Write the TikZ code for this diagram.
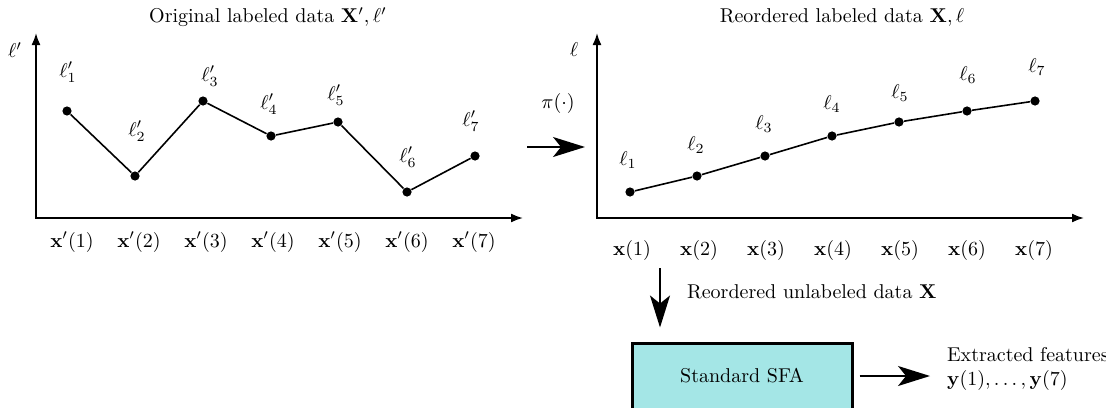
\documentclass[tikz,border=0pt]{standalone}
\usetikzlibrary{arrows.meta}
\definecolor{sfacyan}{RGB}{164,230,230}
\tikzset{
  dot/.style={circle, fill, inner sep=0pt, minimum size=4.6pt},
  axis/.style={line width=0.9pt, {Latex[length=6pt,width=4.5pt]}-{Latex[length=6pt,width=4.5pt]}},
  bigarrow/.style={line width=0.9pt, -{Stealth[length=16pt,width=10pt,inset=4pt]}},
  curve/.style={line width=0.8pt},
  sfabox/.style={draw, line width=1.5pt, fill=sfacyan, minimum width=110pt, minimum height=33pt},
}

\begin{document}
\begin{tikzpicture}[x=0.5pt, y=-0.5pt]
\useasboundingbox (0,0) rectangle (1106,407);

% Original labeled data
\node (titlea) at (268,17) {Original labeled data $\mathbf{X}',\ell'$};
\coordinate (ya) at (36,33);
\coordinate (xa) at (523,218);
\draw[axis] (ya) |- (xa);
\node (lbla) at (15,50) {$\ell'$};
\foreach \i/\px/\py/\lx/\ly in {1/67/111/68/72, 2/135/176/137/131, 3/203/101/210/76,
    4/271/136/269/104, 5/338/122/336/95, 6/407/192/408/157, 7/475/156/471/121}{
  \node[dot] (pa\i) at (\px,\py) {};
  \node (la\i) at (\lx,\ly) {$\ell'_\i$};
}
\foreach \i/\lx in {1/72, 2/139, 3/206, 4/273, 5/340, 6/407, 7/474}
  \node (xa\i) at (\lx,242) {$\mathbf{x}'(\i)$};
\draw[curve] (pa1) -- (pa2) -- (pa3) -- (pa4) -- (pa5) -- (pa6) -- (pa7);

% Permutation
\coordinate (perma) at (527,147);
\coordinate (permb) at (585,147);
\draw[bigarrow] (perma) -- (permb);
\node (pi) at (558,103) {$\pi(\cdot)$};

% Reordered labeled data
\node (titleb) at (842,17) {Reordered labeled data $\mathbf{X},\ell$};
\coordinate (yb) at (597,33);
\coordinate (xb) at (1084,218);
\draw[axis] (yb) |- (xb);
\node (lblb) at (574,50) {$\ell$};
\foreach \i/\px/\py/\lx/\ly in {1/630/192/628/160, 2/697/176/696/145, 3/765/156/764/124,
    4/832/136/832/104, 5/899/122/900/93, 6/967/111/968/75, 7/1035/101/1037/67}{
  \node[dot] (pb\i) at (\px,\py) {};
  \node (lb\i) at (\lx,\ly) {$\ell_\i$};
}
\foreach \i/\lx in {1/632, 2/699, 3/766, 4/833, 5/900, 6/967, 7/1034}
  \node (xb\i) at (\lx,250) {$\mathbf{x}(\i)$};
\draw[curve] (pb1) -- (pb2) -- (pb3) -- (pb4) -- (pb5) -- (pb6) -- (pb7);

% SFA stage
\node[sfabox] (sfa) at (742,376) {Standard SFA};
\coordinate (down) at (660,268);
\draw[bigarrow, shorten >=7pt] (down) -- (sfa.north -| down);
\node[anchor=west] (unlab) at (680,292) {Reordered unlabeled data $\mathbf{X}$};
\node[anchor=west, align=left] (feat) at (940,369) {Extracted features\\$\mathbf{y}(1),\dots,\mathbf{y}(7)$};
\draw[bigarrow, shorten <=3pt, shorten >=5pt] (sfa.east) -- (sfa.east -| feat.west);
\end{tikzpicture}
\end{document}
